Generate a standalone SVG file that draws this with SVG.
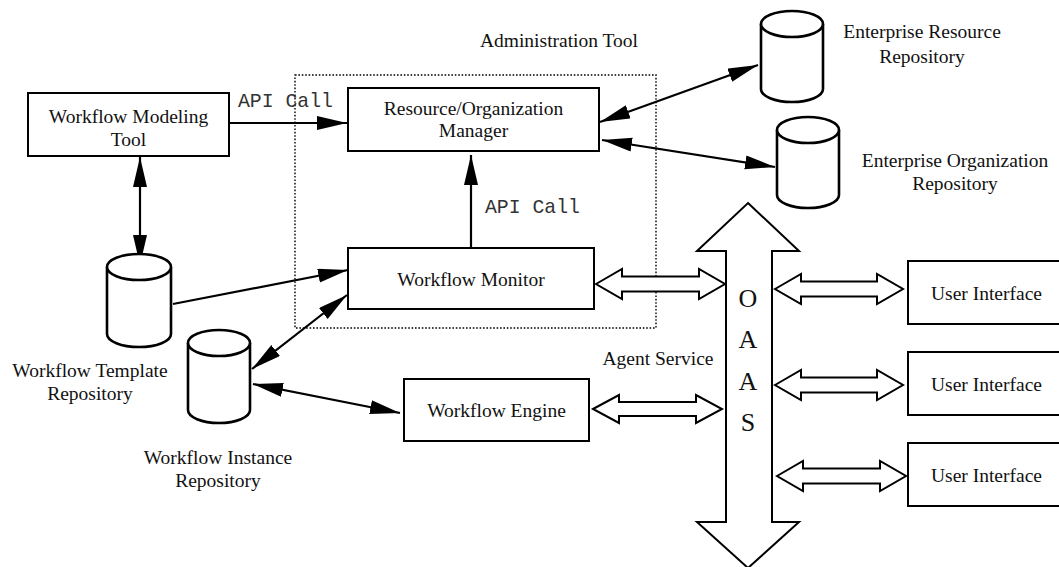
<svg xmlns="http://www.w3.org/2000/svg" width="1059" height="567" viewBox="0 0 1059 567">
<style>
.box{fill:#fff;stroke:#000;stroke-width:2}
.cyl{fill:#fff;stroke:#000;stroke-width:2.6}
.t{font-family:"Liberation Serif","Times New Roman",serif;font-size:19.5px;fill:#111;text-anchor:middle}
.big{font-family:"Liberation Serif","Times New Roman",serif;font-size:26px;fill:#111;text-anchor:middle}
.api{font-family:"Liberation Mono","Courier New",monospace;font-size:21px;fill:#333}
.ln{fill:none;stroke:#000;stroke-width:2.2}
.ha{fill:#fff;stroke:#000;stroke-width:2}
</style>
<defs>
<marker id="ah" markerUnits="userSpaceOnUse" markerWidth="31" markerHeight="15" refX="30" refY="7" orient="auto-start-reverse" viewBox="0 0 31 15">
<path d="M0,0 L30,7 L0,14 z" fill="#000"/>
</marker>
</defs>
<rect width="1059" height="567" fill="#fff"/>

<g id="admin-tool">
<rect x="295" y="75" width="361" height="253" fill="none" stroke="#000" stroke-width="1.4" stroke-dasharray="1.6 1.8"/>
<text class="t" x="559" y="47">Administration Tool</text>
</g>

<g id="connectors">
<line class="ln" x1="229" y1="123" x2="347" y2="123" marker-end="url(#ah)"/>
<line class="ln" x1="140" y1="157" x2="140" y2="265" marker-start="url(#ah)" marker-end="url(#ah)"/>
<line class="ln" x1="173" y1="304" x2="348" y2="270" marker-end="url(#ah)"/>
<line class="ln" x1="471" y1="248" x2="471" y2="155" marker-end="url(#ah)"/>
<line class="ln" x1="600" y1="122" x2="758" y2="65" marker-start="url(#ah)" marker-end="url(#ah)"/>
<line class="ln" x1="602" y1="140" x2="775" y2="167" marker-start="url(#ah)" marker-end="url(#ah)"/>
<line class="ln" x1="252" y1="369" x2="347" y2="295" marker-start="url(#ah)" marker-end="url(#ah)"/>
<line class="ln" x1="253" y1="384" x2="400" y2="413" marker-start="url(#ah)" marker-end="url(#ah)"/>
<polygon class="ha" points="596,284 622,269 622,276.5 699,276.5 699,269 725,284 699,299 699,291.5 622,291.5 622,299"/>
<polygon class="ha" points="593,409 619,395 619,402 696,402 696,395 722,409 696,423 696,416 619,416 619,423"/>
<polygon class="ha" points="775,289 801,274 801,281.5 877,281.5 877,274 903,289 877,304 877,296.5 801,296.5 801,304"/>
<polygon class="ha" points="775,385 801,370 801,377.5 877,377.5 877,370 903,385 877,400 877,392.5 801,392.5 801,400"/>
<polygon class="ha" points="777,476 803,461 803,468.5 880,468.5 880,461 906,476 880,491 880,483.5 803,483.5 803,491"/>
<text class="api" x="238" y="107" textLength="95" lengthAdjust="spacingAndGlyphs">API Call</text>
<text class="api" x="485" y="213" textLength="95" lengthAdjust="spacingAndGlyphs">API Call</text>
<text class="t" x="658" y="365">Agent Service</text>
</g>

<g id="modeling-tool">
<rect class="box" x="28" y="93" width="201" height="63"/>
<text class="t" x="128.5" y="123">Workflow Modeling</text>
<text class="t" x="128.5" y="146">Tool</text>
</g>

<g id="resource-manager">
<rect class="box" x="348" y="88" width="251" height="63"/>
<text class="t" x="473.5" y="115">Resource/Organization</text>
<text class="t" x="473.5" y="137">Manager</text>
</g>

<g id="workflow-monitor">
<rect class="box" x="348" y="248" width="246" height="61"/>
<text class="t" x="471" y="286">Workflow Monitor</text>
</g>

<g id="workflow-engine">
<rect class="box" x="404" y="379" width="185" height="62"/>
<text class="t" x="496.5" y="417">Workflow Engine</text>
</g>

<g id="enterprise-resource-repository">
<path class="cyl" d="M761,24 L761,89 A31,13 0 0 0 823,89 L823,24"/>
<ellipse class="cyl" cx="792" cy="24" rx="31" ry="13"/>
<text class="t" x="922" y="38">Enterprise Resource</text>
<text class="t" x="922" y="63">Repository</text>
</g>

<g id="enterprise-organization-repository">
<path class="cyl" d="M777,130 L777,195 A31,13 0 0 0 839,195 L839,130"/>
<ellipse class="cyl" cx="808" cy="130" rx="31" ry="13"/>
<text class="t" x="955" y="167">Enterprise Organization</text>
<text class="t" x="955" y="190">Repository</text>
</g>

<g id="workflow-template-repository">
<path class="cyl" d="M107,267 L107,334 A32,13 0 0 0 171,334 L171,267"/>
<ellipse class="cyl" cx="139" cy="267" rx="32" ry="13"/>
<text class="t" x="90" y="377">Workflow Template</text>
<text class="t" x="90" y="400">Repository</text>
</g>

<g id="workflow-instance-repository">
<path class="cyl" d="M188,343 L188,410 A31,13 0 0 0 250,410 L250,343"/>
<ellipse class="cyl" cx="219" cy="343" rx="31" ry="13"/>
<text class="t" x="218" y="464">Workflow Instance</text>
<text class="t" x="218" y="487">Repository</text>
</g>

<g id="oaas">
<polygon class="ha" points="748,203 799,251 772,251 772,522 799,522 748,568 697,522 726,522 726,251 697,251"/>
<text class="big" x="748" y="307">O</text>
<text class="big" x="748" y="348">A</text>
<text class="big" x="748" y="390">A</text>
<text class="big" x="748" y="431">S</text>
</g>

<g id="user-interface-1">
<rect class="box" x="908" y="261" width="170" height="63"/>
<text class="t" x="931" y="300" style="text-anchor:start">User Interface</text>
</g>
<g id="user-interface-2">
<rect class="box" x="908" y="352" width="170" height="63"/>
<text class="t" x="931" y="391" style="text-anchor:start">User Interface</text>
</g>
<g id="user-interface-3">
<rect class="box" x="908" y="443" width="170" height="63"/>
<text class="t" x="931" y="482" style="text-anchor:start">User Interface</text>
</g>
</svg>
